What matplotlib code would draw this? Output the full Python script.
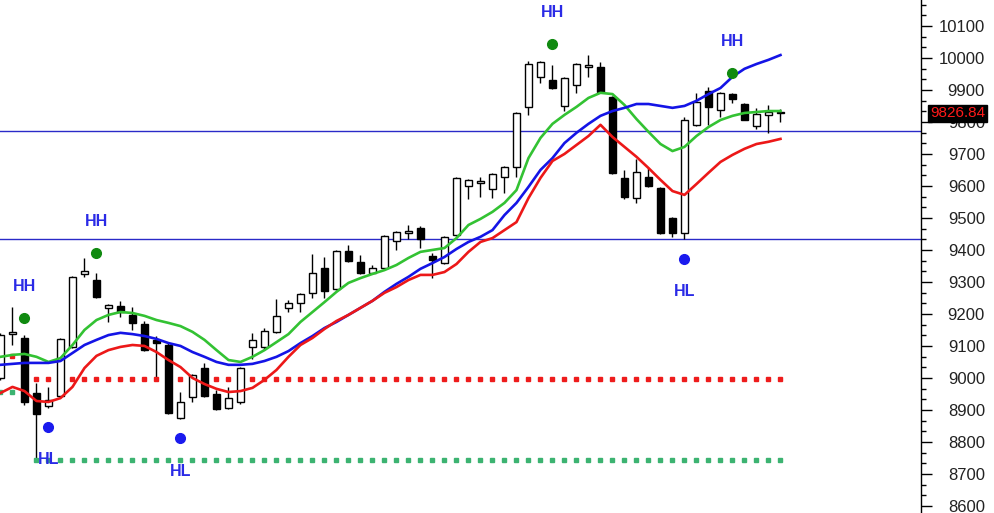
import matplotlib
matplotlib.use("Agg")
import matplotlib.pyplot as plt
from matplotlib.ticker import MultipleLocator
import matplotlib.transforms as mtransforms

plt.rcParams['font.family'] = ['Liberation Sans', 'DejaVu Sans']

# OHLC values, one per bar
opens = [9000, 9138, 9125, 8953, 8912, 8944, 9097, 9325, 9306, 9219,
         9225, 9197, 9168, 9119, 9103, 8875, 8941, 9031, 8950, 8906,
         8925, 9097, 9097, 9144, 9219, 9234, 9266, 9344, 9278, 9397,
         9362, 9328, 9345, 9428, 9453, 9469, 9381, 9359, 9447, 9600,
         9610, 9591, 9628, 9659, 9847, 9941, 9931, 9850, 9916, 9972,
         9972, 9878, 9625, 9562, 9628, 9594, 9500, 9453, 9791, 9897,
         9837, 9887, 9856, 9787, 9822, 9832]
highs = [9140, 9222, 9135, 8985, 8972, 9125, 9320, 9375, 9328, 9230,
         9241, 9222, 9178, 9130, 9110, 8956, 9012, 9047, 8963, 8972,
         9035, 9141, 9156, 9247, 9244, 9265, 9387, 9378, 9400, 9416,
         9384, 9353, 9447, 9460, 9478, 9475, 9390, 9445, 9628, 9622,
         9628, 9640, 9662, 9831, 9990, 9990, 9978, 9940, 9984, 10009,
         9987, 9881, 9650, 9684, 9656, 9597, 9503, 9816, 9891, 9909,
         9894, 9890, 9860, 9844, 9853, 9840]
lows = [8995, 9103, 8915, 8745, 8905, 8940, 9095, 9316, 9250, 9175,
        9190, 9150, 9085, 9000, 8888, 8872, 8925, 8940, 8900, 8903,
        8920, 9060, 9088, 9140, 9206, 9206, 9250, 9250, 9275, 9362,
        9325, 9325, 9342, 9400, 9434, 9406, 9312, 9355, 9444, 9559,
        9566, 9562, 9578, 9628, 9822, 9922, 9903, 9834, 9891, 9941,
        9890, 9638, 9560, 9547, 9597, 9450, 9441, 9434, 9788, 9791,
        9816, 9860, 9806, 9778, 9766, 9800]
closes = [9134, 9144, 8925, 8887, 8931, 9122, 9316, 9334, 9253, 9228,
          9206, 9172, 9088, 9108, 8891, 8925, 9009, 8944, 8903, 8937,
          9031, 9119, 9147, 9194, 9234, 9262, 9328, 9272, 9397, 9366,
          9328, 9344, 9445, 9456, 9458, 9434, 9369, 9441, 9625, 9619,
          9615, 9637, 9659, 9828, 9981, 9987, 9906, 9937, 9981, 9978,
          9894, 9641, 9566, 9644, 9600, 9453, 9453, 9806, 9862, 9847,
          9891, 9872, 9806, 9825, 9831, 9827]

# moving averages
ma_green = [9066, 9072, 9075, 9066, 9050, 9062, 9103, 9150, 9181, 9197,
            9206, 9203, 9194, 9181, 9172, 9162, 9144, 9119, 9087, 9056,
            9050, 9066, 9087, 9112, 9137, 9175, 9206, 9237, 9269, 9297,
            9312, 9325, 9337, 9353, 9375, 9394, 9400, 9406, 9437, 9478,
            9497, 9519, 9547, 9587, 9687, 9750, 9794, 9822, 9847, 9875,
            9891, 9887, 9853, 9809, 9769, 9731, 9709, 9722, 9756, 9784,
            9806, 9819, 9828, 9831, 9834, 9834]
ma_blue = [9041, 9044, 9047, 9047, 9047, 9053, 9078, 9103, 9119, 9134,
           9141, 9137, 9131, 9122, 9109, 9100, 9081, 9066, 9050, 9041,
           9041, 9044, 9053, 9066, 9084, 9109, 9131, 9156, 9175, 9197,
           9219, 9241, 9269, 9294, 9316, 9341, 9359, 9378, 9403, 9425,
           9441, 9462, 9509, 9547, 9597, 9650, 9687, 9734, 9766, 9794,
           9819, 9834, 9844, 9856, 9856, 9850, 9844, 9850, 9866, 9887,
           9906, 9941, 9966, 9981, 9994, 10009]
ma_red = [8953, 8972, 8959, 8928, 8925, 8937, 8972, 9031, 9069, 9087,
          9097, 9103, 9100, 9081, 9056, 9034, 9000, 8981, 8966, 8956,
          8959, 8969, 8994, 9025, 9066, 9103, 9125, 9153, 9178, 9197,
          9219, 9241, 9266, 9284, 9306, 9322, 9322, 9331, 9356, 9394,
          9425, 9437, 9462, 9487, 9562, 9625, 9678, 9700, 9728, 9756,
          9791, 9753, 9722, 9691, 9656, 9619, 9584, 9572, 9606, 9641,
          9675, 9697, 9716, 9731, 9738, 9747]

# swing points
hh_idx = [2, 8, 46, 61]
hh_val = [9188, 9391, 10044, 9953]
hl_idx = [4, 15, 57]
hl_val = [8847, 8812, 9372]

# support / resistance levels
hlines = [9772, 9434]
red_level, red_start, red_end = 8997, 3, 65
green_level, green_start, green_end = 8744, 3, 65
old_red_level, old_red_bars = 9069, [0, 1, 2]
old_green_level, old_green_bars = 8956, [0, 1, 2]

last_price = 9826.84
yticks = list(range(8600, 10101, 100))

fig = plt.figure(figsize=(9.95, 5.13), dpi=100)
ax = fig.add_axes([0, 0, 921 / 995, 1])

n = len(closes)
idx = list(range(n))

# wicks
ax.vlines(idx, lows, highs, color='black', lw=1.0, zorder=2)
# bodies
for i in idx:
    o, c = opens[i], closes[i]
    bottom = min(o, c)
    height = max(abs(c - o), 3)
    fc = 'white' if c >= o else 'black'
    ax.bar(i, height, bottom=bottom, width=0.62, facecolor=fc,
           edgecolor='black', linewidth=1.0, zorder=3)

# horizontal lines
for lv in hlines:
    ax.axhline(lv, color='#2a2ac8', lw=1.0, zorder=1)

# dotted levels
r = list(range(red_start, red_end + 1))
ax.plot(r, [red_level] * len(r), ls='none', marker='s', ms=3.4,
        color='#ee1c1c', zorder=2)
g = list(range(green_start, green_end + 1))
ax.plot(g, [green_level] * len(g), ls='none', marker='s', ms=3.4,
        color='#3cb371', zorder=2)
ax.plot(old_red_bars, [old_red_level] * len(old_red_bars), ls='none',
        marker='s', ms=3.4, color='#ee1c1c', zorder=1.5)
ax.plot(old_green_bars, [old_green_level] * len(old_green_bars), ls='none',
        marker='s', ms=3.4, color='#3cb371', zorder=1.5)

# moving averages
ax.plot(idx, ma_green, color='#33c233', lw=1.9, zorder=4)
ax.plot(idx, ma_blue, color='#1414e6', lw=1.9, zorder=4)
ax.plot(idx, ma_red, color='#ec1818', lw=1.9, zorder=4)

# HH / HL markers
ax.plot(hh_idx, hh_val, ls='none', marker='o', ms=7, color='#108a10', zorder=5)
ax.plot(hl_idx, hl_val, ls='none', marker='o', ms=7, color='#1a1aee', zorder=5)
for i, v in zip(hh_idx, hh_val):
    ax.annotate('HH', (i, v), xytext=(0, 31), textcoords='offset pixels',
                ha='center', va='center', fontsize=11.5, fontweight='bold',
                color='#2a2ae6')
for i, v in zip(hl_idx, hl_val):
    ax.annotate('HL', (i, v), xytext=(0, -33), textcoords='offset pixels',
                ha='center', va='center', fontsize=11.5, fontweight='bold',
                color='#2a2ae6')

ax.set_xlim(-0.04, 76.71)
ax.set_ylim(8578, 10181)

for s in ['left', 'top', 'bottom']:
    ax.spines[s].set_visible(False)
ax.spines['right'].set_linewidth(1.0)
ax.set_xticks([])
ax.yaxis.tick_right()
ax.set_yticks(yticks)
ax.set_yticklabels([str(t) for t in yticks], ha='right')
ax.yaxis.set_minor_locator(MultipleLocator(100 / 3))
ax.tick_params(axis='y', which='major', length=8, width=1, pad=38,
               labelsize=12, labelcolor='#222222')
ax.tick_params(axis='y', which='minor', length=3.5, width=1)

# last price box
trans = mtransforms.blended_transform_factory(ax.transAxes, ax.transData)
ax.text(985 / 921, last_price, f"{last_price:.2f}", transform=trans,
        ha='right', va='center', fontsize=11, color='#ff1a1a', zorder=10,
        bbox=dict(boxstyle='square,pad=0.12', fc='black', ec='black'),
        clip_on=False)

fig.savefig('out.png', dpi=100)
